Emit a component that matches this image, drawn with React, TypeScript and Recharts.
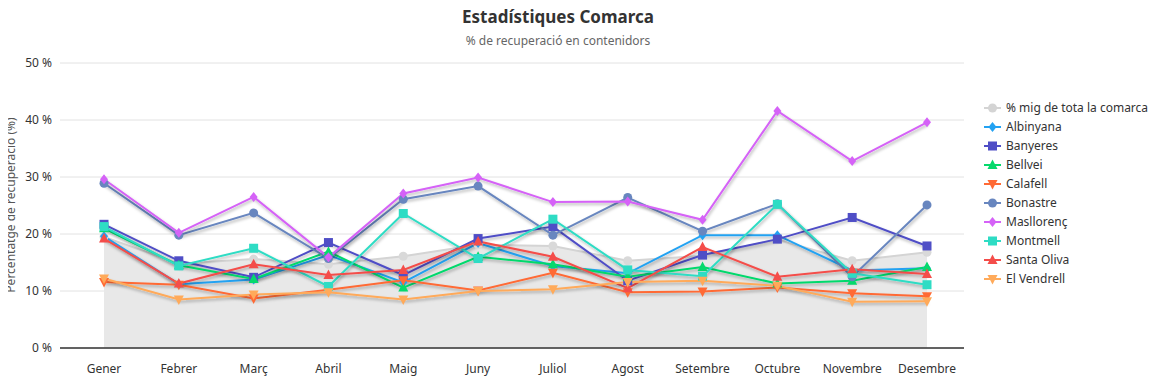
import React from 'react';
import { ComposedChart, Line, Area, XAxis, YAxis, CartesianGrid, Legend } from 'recharts';

const months = ['Gener', 'Febrer', 'Març', 'Abril', 'Maig', 'Juny', 'Juliol', 'Agost', 'Setembre', 'Octubre', 'Novembre', 'Desembre'];
const yTicks = [0, 10, 20, 30, 40, 50];

const mitjana = [19.5, 14.8, 15.6, 14.7, 16.1, 18.1, 17.9, 15.3, 16.2, 19.0, 15.3, 16.8];
const albinyana = [19.6, 11.2, 12.0, 16.3, 11.5, 18.4, 14.4, 13.1, 19.8, 19.8, 13.6, 14.0];
const banyeres = [21.7, 15.3, 12.4, 18.5, 12.8, 19.2, 21.3, 11.8, 16.3, 19.1, 22.9, 17.9];
const bellvei = [21.0, 14.5, 12.1, 16.9, 10.6, 16.0, 14.7, 12.5, 14.2, 11.3, 11.8, 14.2];
const calafell = [11.6, 11.1, 8.7, 10.2, 11.9, 10.1, 13.2, 9.8, 9.9, 10.6, 9.6, 9.1];
const bonastre = [28.9, 19.8, 23.7, 15.7, 26.1, 28.4, 19.8, 26.4, 20.5, 25.3, 12.5, 25.1];
const masllorenc = [29.6, 20.2, 26.5, 15.9, 27.1, 29.9, 25.6, 25.7, 22.5, 41.6, 32.8, 39.6];
const montmell = [21.3, 14.4, 17.5, 10.8, 23.6, 15.7, 22.6, 13.7, 12.6, 25.2, 13.1, 11.1];
const santaOliva = [19.2, 11.3, 14.7, 12.8, 13.7, 18.7, 16.0, 10.5, 17.7, 12.5, 13.8, 13.0];
const elVendrell = [12.2, 8.5, 9.4, 9.8, 8.5, 10.0, 10.3, 11.6, 11.8, 10.9, 8.1, 8.2];

type Shape = 'circle' | 'square' | 'diamond' | 'up' | 'down';

const avg = { key: 'mig', name: '% mig de tota la comarca', color: '#d4d4d4', shape: 'circle' as Shape, values: mitjana };

const series = [
  { key: 'albinyana', name: 'Albinyana', color: '#23a2f2', shape: 'diamond' as Shape, values: albinyana },
  { key: 'banyeres', name: 'Banyeres', color: '#4f4ec6', shape: 'square' as Shape, values: banyeres },
  { key: 'bellvei', name: 'Bellvei', color: '#06d96c', shape: 'up' as Shape, values: bellvei },
  { key: 'calafell', name: 'Calafell', color: '#ff6a35', shape: 'down' as Shape, values: calafell },
  { key: 'bonastre', name: 'Bonastre', color: '#6886bf', shape: 'circle' as Shape, values: bonastre },
  { key: 'masllorenc', name: 'Masllorenç', color: '#d562f7', shape: 'diamond' as Shape, values: masllorenc },
  { key: 'montmell', name: 'Montmell', color: '#2edcc4', shape: 'square' as Shape, values: montmell },
  { key: 'santaOliva', name: 'Santa Oliva', color: '#f44d4a', shape: 'up' as Shape, values: santaOliva },
  { key: 'elVendrell', name: 'El Vendrell', color: '#ffaa5a', shape: 'down' as Shape, values: elVendrell },
];

const data = months.map((m, i) => {
  const row: Record<string, any> = { month: m, mig: mitjana[i] };
  series.forEach((s) => { row[s.key] = s.values[i]; });
  return row;
});

const FONT = '"Noto Sans", "Segoe UI", sans-serif';

const Marker = ({ shape, cx, cy, color }: { shape: Shape; cx: number; cy: number; color: string }) => {
  if (cx == null || cy == null) return null;
  switch (shape) {
    case 'circle':
      return <circle cx={cx} cy={cy} r={4.5} fill={color} />;
    case 'square':
      return <rect x={cx - 4.5} y={cy - 4.5} width={9} height={9} fill={color} />;
    case 'diamond':
      return <polygon points={`${cx},${cy - 5} ${cx + 4},${cy} ${cx},${cy + 5} ${cx - 4},${cy}`} fill={color} />;
    case 'up':
      return <polygon points={`${cx},${cy - 5.5} ${cx + 5},${cy + 4} ${cx - 5},${cy + 4}`} fill={color} />;
    default:
      return <polygon points={`${cx},${cy + 5.5} ${cx + 5},${cy - 4} ${cx - 5},${cy - 4}`} fill={color} />;
  }
};

const makeDot = (s: { key: string; color: string; shape: Shape }) => (p: any) => (
  <Marker key={`${s.key}-${p.index}`} shape={s.shape} cx={p.cx} cy={p.cy} color={s.color} />
);

const LegendContent = () => (
  <div style={{ fontFamily: FONT, fontSize: 12, color: '#333' }}>
    {[avg, ...series].map((s) => (
      <div key={s.key} style={{ display: 'flex', alignItems: 'center', height: 19 }}>
        <svg width={17} height={12} style={{ marginRight: 5 }}>
          <line x1={0} y1={6} x2={17} y2={6} stroke={s.color} strokeWidth={2} />
          <Marker shape={s.shape} cx={8.5} cy={6} color={s.color} />
        </svg>
        <span>{s.name}</span>
      </div>
    ))}
  </div>
);

export default function App() {
  return (
    <div style={{ position: 'relative', left: -8, top: -8, width: 1157, height: 380, fontFamily: FONT }}>
      <style>{`.recharts-line { filter: url(#lineShadow); }`}</style>
      <svg width={0} height={0} style={{ position: 'absolute' }}>
        <defs>
          <filter id="lineShadow" filterUnits="userSpaceOnUse" x={0} y={0} width={1200} height={400}>
            <feDropShadow dx={1} dy={2} stdDeviation={1.5} floodColor="#000" floodOpacity={0.3} />
          </filter>
        </defs>
      </svg>
      <div style={{ position: 'absolute', left: 0, width: 1116, top: 5, textAlign: 'center', fontSize: 17, fontWeight: 700, color: '#333' }}>
        Estadístiques Comarca
      </div>
      <div style={{ position: 'absolute', left: 0, width: 1116, top: 32, textAlign: 'center', fontSize: 12, color: '#666' }}>
        % de recuperació en contenidors
      </div>
      <svg width={24} height={380} style={{ position: 'absolute', left: 0, top: 0 }}>
        <text x={10} y={205} transform="rotate(-90, 10, 205)" textAnchor="middle" dominantBaseline="central"
          fill="#555" fontSize={12} fontFamily={FONT}>
          Percentatge de recuperació (%)
        </text>
      </svg>
      <ComposedChart width={1157} height={380} data={data} margin={{ top: 63, right: 193, bottom: 2, left: 0 }}>
        <CartesianGrid vertical={false} stroke="#e2e2e2" />
        <XAxis dataKey="month" axisLine={{ stroke: '#333', strokeWidth: 1.5 }} tickLine={false} tickSize={6} tickMargin={10}
          height={30} padding={{ left: 44, right: 37 }} interval={0}
          tick={{ fill: '#333', fontSize: 12, fontFamily: FONT }} />
        <YAxis domain={[0, 50]} ticks={yTicks} width={60} axisLine={false} tickLine={false}
          tickFormatter={(v: number) => `${v} %`} tick={{ fill: '#333', fontSize: 12, fontFamily: FONT }} />
        <Legend layout="horizontal" verticalAlign="middle" align="center" content={<LegendContent />}
          wrapperStyle={{ position: 'absolute', left: 984, top: 98, width: 172 }} />
        <Area type="linear" dataKey="mig" name={avg.name} stroke={avg.color} strokeWidth={2} fill="#e8e8e8" fillOpacity={1}
          dot={makeDot({ ...avg, color: '#d9d9d9' })} activeDot={false} isAnimationActive={false} />
        {series.map((s) => (
          <Line key={s.key} type="linear" dataKey={s.key} name={s.name} stroke={s.color} strokeWidth={2}
            dot={makeDot(s)} activeDot={false} isAnimationActive={false} />
        ))}
      </ComposedChart>
    </div>
  );
}
